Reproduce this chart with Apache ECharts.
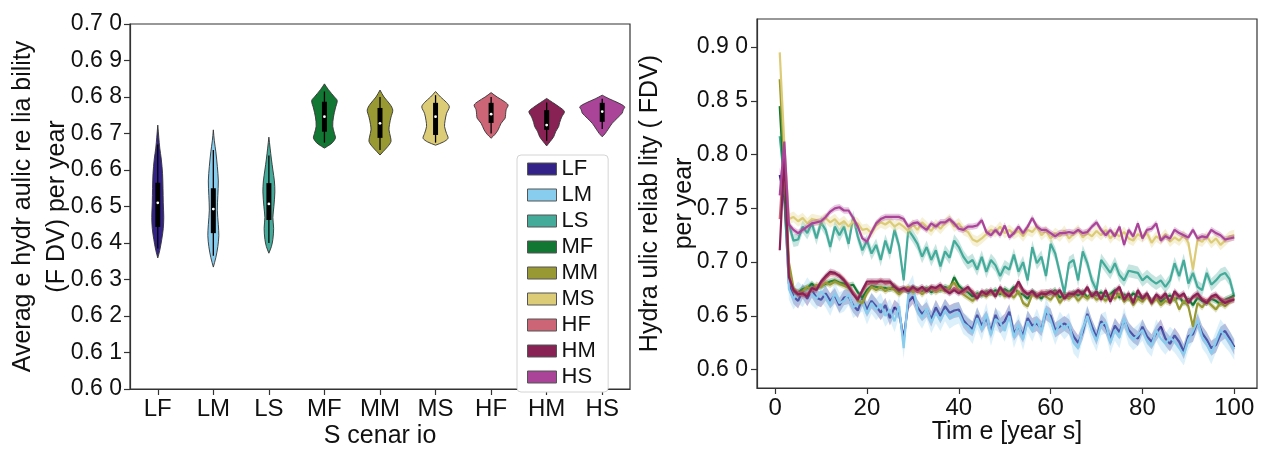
<!DOCTYPE html>
<html>
<head>
<meta charset="utf-8">
<script src="https://cdn.jsdelivr.net/npm/echarts@6/dist/echarts.min.js"></script>
<style>
html, body { margin: 0; padding: 0; background: #fff; }
#main { width: 1269px; height: 449px; }
</style>
</head>
<body>
<div id="main"></div>
<script>
// scenarios and colours
var scenarios = ['LF', 'LM', 'LS', 'MF', 'MM', 'MS', 'HF', 'HM', 'HS'];
var colors = ['#332288', '#88CCEE', '#44AA99', '#117733', '#999933', '#DDCC77', '#CC6677', '#882255', '#AA4499'];

// violin outlines: [value, half width as share of the category band]
var violinShapes = [
  [[0.6723,0],[0.6690,0.018],[0.6660,0.036],[0.6630,0.063],[0.6590,0.086],[0.6550,0.094],[0.6510,0.099],[0.6470,0.108],[0.6440,0.099],[0.6410,0.072],[0.6380,0.036],[0.6359,0]],
  [[0.6710,0],[0.6680,0.018],[0.6650,0.045],[0.6610,0.072],[0.6570,0.090],[0.6530,0.081],[0.6490,0.072],[0.6450,0.090],[0.6420,0.099],[0.6390,0.081],[0.6360,0.045],[0.6334,0]],
  [[0.6690,0],[0.6660,0.022],[0.6630,0.045],[0.6600,0.072],[0.6570,0.099],[0.6540,0.108],[0.6500,0.090],[0.6470,0.072],[0.6440,0.086],[0.6410,0.072],[0.6390,0.045],[0.6372,0]],
  [[0.6836,0],[0.6820,0.072],[0.6800,0.180],[0.6790,0.230],[0.6770,0.198],[0.6745,0.162],[0.6720,0.149],[0.6700,0.180],[0.6688,0.198],[0.6675,0.144],[0.6665,0.054],[0.6660,0]],
  [[0.6819,0],[0.6800,0.072],[0.6780,0.180],[0.6764,0.230],[0.6745,0.198],[0.6725,0.171],[0.6710,0.162],[0.6690,0.189],[0.6678,0.198],[0.6665,0.144],[0.6650,0.054],[0.6641,0]],
  [[0.6815,0],[0.6800,0.090],[0.6785,0.198],[0.6773,0.248],[0.6755,0.198],[0.6735,0.171],[0.6719,0.162],[0.6700,0.198],[0.6687,0.225],[0.6677,0.144],[0.6668,0]],
  [[0.6812,0],[0.6800,0.108],[0.6788,0.234],[0.6778,0.306],[0.6765,0.270],[0.6752,0.261],[0.6742,0.252],[0.6728,0.180],[0.6710,0.126],[0.6698,0.072],[0.6687,0]],
  [[0.6796,0],[0.6785,0.108],[0.6772,0.234],[0.6760,0.320],[0.6745,0.270],[0.6730,0.234],[0.6719,0.216],[0.6705,0.162],[0.6691,0.126],[0.6678,0.063],[0.6666,0]],
  [[0.6805,0],[0.6795,0.126],[0.6784,0.288],[0.6773,0.405],[0.6765,0.378],[0.6756,0.360],[0.6742,0.270],[0.6728,0.180],[0.6712,0.108],[0.6700,0.054],[0.6691,0]]
];
var boxQ1 =     [0.6444, 0.6427, 0.6463, 0.6705, 0.6688, 0.6696, 0.6729, 0.6710, 0.6732];
var boxQ3 =     [0.6565, 0.6550, 0.6564, 0.6787, 0.6770, 0.6784, 0.6784, 0.6764, 0.6784];
var medians =   [0.6510, 0.6493, 0.6507, 0.6746, 0.6728, 0.6746, 0.6753, 0.6723, 0.6760];
var whiskerLo = [0.6385, 0.6365, 0.6400, 0.6675, 0.6655, 0.6675, 0.6700, 0.6680, 0.6712];
var whiskerHi = [0.6670, 0.6655, 0.6640, 0.6815, 0.6800, 0.6805, 0.6800, 0.6785, 0.6795];

var leftYTicks = [0.60, 0.61, 0.62, 0.63, 0.64, 0.65, 0.66, 0.67, 0.68, 0.69, 0.70];
var leftYTickLabels = ['0.6 0', '0.6 1', '0.6 2', '0.6 3', '0.6 4', '0.6 5', '0.6 6', '0.6 7', '0.6 8', '0.6 9', '0.7 0'];
var rightYTicks = [0.60, 0.65, 0.70, 0.75, 0.80, 0.85, 0.90];
var rightYTickLabels = ['0.6 0', '0.6 5', '0.7 0', '0.7 5', '0.8 0', '0.8 5', '0.9 0'];
var rightXTicks = [0, 20, 40, 60, 80, 100];

// yearly reliability per scenario (years 1..100)
var years = [];
for (var y = 1; y <= 100; y++) years.push(y);

var valsLF = [0.781,0.760,0.680,0.668,0.664,0.673,0.666,0.674,0.667,0.665,0.671,0.664,0.669,0.660,0.667,0.668,0.660,0.655,0.666,0.656,
0.664,0.659,0.653,0.660,0.648,0.658,0.654,0.628,0.663,0.668,0.658,0.652,0.656,0.647,0.658,0.650,0.659,0.653,0.655,0.656,
0.646,0.641,0.638,0.651,0.641,0.648,0.636,0.651,0.641,0.645,0.654,0.634,0.640,0.632,0.648,0.641,0.643,0.638,0.653,0.650,
0.637,0.640,0.643,0.640,0.631,0.625,0.635,0.652,0.640,0.630,0.645,0.640,0.629,0.641,0.635,0.646,0.637,0.632,0.629,0.640,
0.631,0.626,0.634,0.640,0.629,0.624,0.632,0.626,0.617,0.631,0.633,0.645,0.634,0.628,0.620,0.623,0.633,0.636,0.629,0.621];
var valsLM = [0.765,0.775,0.675,0.666,0.672,0.668,0.676,0.670,0.666,0.673,0.668,0.660,0.671,0.662,0.664,0.670,0.658,0.661,0.664,0.652,
0.662,0.656,0.661,0.650,0.656,0.645,0.659,0.620,0.670,0.678,0.655,0.648,0.657,0.644,0.653,0.646,0.655,0.648,0.651,0.653,
0.643,0.640,0.634,0.648,0.637,0.652,0.632,0.647,0.644,0.636,0.650,0.630,0.642,0.628,0.645,0.636,0.647,0.635,0.657,0.646,
0.633,0.644,0.638,0.643,0.625,0.620,0.638,0.650,0.636,0.627,0.642,0.644,0.625,0.637,0.630,0.648,0.633,0.628,0.632,0.637,
0.627,0.622,0.637,0.629,0.624,0.630,0.626,0.620,0.614,0.628,0.636,0.646,0.630,0.624,0.615,0.626,0.637,0.631,0.626,0.619];
var valsLS = [0.817,0.775,0.735,0.720,0.721,0.733,0.727,0.736,0.722,0.737,0.730,0.714,0.733,0.725,0.733,0.717,0.742,0.724,0.711,0.720,
0.708,0.716,0.702,0.720,0.708,0.730,0.715,0.683,0.730,0.724,0.717,0.705,0.714,0.702,0.711,0.696,0.710,0.704,0.720,0.714,
0.705,0.699,0.702,0.693,0.705,0.691,0.702,0.697,0.687,0.696,0.693,0.707,0.691,0.700,0.683,0.714,0.699,0.705,0.687,0.717,
0.708,0.690,0.671,0.699,0.702,0.683,0.710,0.699,0.683,0.674,0.702,0.696,0.690,0.699,0.688,0.683,0.692,0.691,0.690,0.683,
0.687,0.683,0.680,0.683,0.677,0.683,0.699,0.687,0.702,0.680,0.690,0.677,0.674,0.690,0.679,0.683,0.688,0.690,0.684,0.668];
var valsMF = [0.845,0.770,0.690,0.673,0.672,0.675,0.676,0.680,0.676,0.678,0.680,0.682,0.683,0.681,0.680,0.678,0.679,0.672,0.667,0.674,
0.678,0.677,0.676,0.676,0.675,0.678,0.672,0.675,0.673,0.676,0.674,0.673,0.676,0.672,0.675,0.674,0.677,0.675,0.686,0.678,
0.674,0.672,0.668,0.671,0.669,0.673,0.671,0.674,0.670,0.675,0.672,0.677,0.671,0.670,0.666,0.673,0.670,0.666,0.672,0.671,
0.674,0.667,0.670,0.668,0.672,0.669,0.673,0.667,0.671,0.669,0.672,0.668,0.670,0.674,0.667,0.670,0.666,0.671,0.668,0.666,
0.670,0.664,0.668,0.663,0.667,0.669,0.665,0.668,0.662,0.666,0.660,0.667,0.664,0.662,0.666,0.664,0.661,0.665,0.667,0.669];
var valsMM = [0.870,0.790,0.700,0.676,0.670,0.673,0.677,0.674,0.679,0.677,0.681,0.679,0.682,0.680,0.678,0.676,0.672,0.664,0.662,0.671,
0.677,0.674,0.677,0.673,0.676,0.674,0.670,0.674,0.677,0.672,0.675,0.670,0.674,0.676,0.672,0.675,0.673,0.677,0.681,0.674,
0.670,0.667,0.664,0.668,0.671,0.668,0.672,0.669,0.673,0.668,0.671,0.667,0.673,0.662,0.659,0.670,0.667,0.671,0.668,0.665,
0.671,0.662,0.668,0.666,0.670,0.664,0.669,0.666,0.670,0.665,0.668,0.664,0.669,0.666,0.671,0.663,0.667,0.660,0.666,0.663,
0.668,0.661,0.666,0.660,0.664,0.662,0.667,0.656,0.664,0.659,0.640,0.662,0.658,0.664,0.660,0.656,0.662,0.659,0.663,0.666];
var valsMS = [0.895,0.810,0.740,0.742,0.738,0.741,0.736,0.740,0.739,0.738,0.741,0.737,0.740,0.735,0.738,0.733,0.738,0.736,0.730,0.731,
0.727,0.734,0.737,0.735,0.738,0.733,0.736,0.733,0.729,0.735,0.730,0.737,0.733,0.729,0.735,0.731,0.736,0.740,0.733,0.736,
0.730,0.728,0.721,0.719,0.722,0.726,0.730,0.728,0.733,0.727,0.730,0.726,0.729,0.724,0.730,0.728,0.733,0.725,0.729,0.722,
0.727,0.724,0.729,0.722,0.726,0.730,0.723,0.727,0.724,0.729,0.725,0.730,0.722,0.727,0.724,0.728,0.722,0.720,0.726,0.723,
0.727,0.718,0.724,0.721,0.726,0.719,0.723,0.720,0.725,0.718,0.693,0.721,0.719,0.724,0.718,0.722,0.716,0.720,0.724,0.725];
var valsHF = [0.740,0.805,0.688,0.673,0.672,0.669,0.671,0.674,0.676,0.680,0.685,0.689,0.689,0.688,0.684,0.679,0.672,0.667,0.672,0.679,
0.681,0.680,0.683,0.680,0.681,0.678,0.675,0.674,0.675,0.676,0.672,0.675,0.674,0.676,0.674,0.677,0.675,0.672,0.676,0.673,
0.672,0.675,0.673,0.668,0.671,0.672,0.672,0.670,0.675,0.672,0.670,0.672,0.679,0.672,0.671,0.671,0.670,0.672,0.672,0.671,
0.672,0.672,0.668,0.670,0.671,0.672,0.671,0.675,0.669,0.671,0.667,0.672,0.665,0.671,0.675,0.667,0.670,0.664,0.672,0.668,
0.669,0.664,0.668,0.667,0.669,0.664,0.671,0.667,0.669,0.664,0.667,0.669,0.666,0.664,0.667,0.668,0.666,0.664,0.665,0.666];
var valsHM = [0.711,0.800,0.686,0.674,0.670,0.671,0.668,0.676,0.674,0.682,0.687,0.691,0.690,0.687,0.683,0.677,0.670,0.665,0.674,0.682,
0.682,0.682,0.682,0.682,0.682,0.677,0.674,0.676,0.673,0.677,0.674,0.677,0.673,0.677,0.676,0.679,0.674,0.671,0.674,0.671,
0.674,0.677,0.671,0.666,0.673,0.670,0.674,0.668,0.677,0.671,0.668,0.674,0.682,0.674,0.670,0.673,0.668,0.671,0.670,0.673,
0.670,0.674,0.666,0.671,0.670,0.674,0.670,0.677,0.668,0.673,0.665,0.674,0.663,0.673,0.677,0.665,0.671,0.662,0.674,0.666,
0.671,0.662,0.670,0.666,0.671,0.662,0.673,0.668,0.671,0.662,0.668,0.671,0.665,0.662,0.668,0.670,0.665,0.662,0.664,0.665];
var valsHS = [0.762,0.812,0.735,0.730,0.727,0.730,0.733,0.736,0.737,0.738,0.742,0.747,0.750,0.751,0.748,0.748,0.741,0.733,0.722,0.719,
0.728,0.736,0.740,0.742,0.742,0.742,0.742,0.740,0.733,0.736,0.737,0.733,0.730,0.736,0.733,0.737,0.737,0.740,0.736,0.731,
0.730,0.733,0.733,0.734,0.739,0.728,0.725,0.730,0.725,0.734,0.723,0.727,0.733,0.727,0.733,0.741,0.733,0.730,0.730,0.727,
0.724,0.727,0.727,0.728,0.727,0.730,0.727,0.728,0.733,0.737,0.730,0.725,0.730,0.724,0.733,0.716,0.730,0.724,0.736,0.722,
0.730,0.731,0.736,0.720,0.724,0.722,0.730,0.727,0.725,0.723,0.730,0.722,0.724,0.723,0.730,0.727,0.725,0.721,0.722,0.723];
// half width of the shaded interval per scenario
var ciHalf = [0.007, 0.010, 0.006, 0.003, 0.003, 0.005, 0.003, 0.003, 0.003];

var seriesValues = [valsLF, valsLM, valsLS, valsMF, valsMM, valsMS, valsHF, valsHM, valsHS];

var FONT = 'Liberation Sans, Arial, sans-serif';

function pickLabel(ticks, labels) {
  return function (v) {
    for (var i = 0; i < ticks.length; i++) if (Math.abs(ticks[i] - v) < 1e-6) return labels[i];
    return '';
  };
}

function violinItem(idx) {
  return function (params, api) {
    var shape = violinShapes[idx];
    var bandW = api.size([1, 0])[0];
    var pts = [], k, c;
    for (k = 0; k < shape.length; k++) {
      c = api.coord([idx, shape[k][0]]);
      pts.push([c[0] + shape[k][1] * bandW, c[1]]);
    }
    for (k = shape.length - 1; k >= 0; k--) {
      c = api.coord([idx, shape[k][0]]);
      pts.push([c[0] - shape[k][1] * bandW, c[1]]);
    }
    var top = api.coord([idx, whiskerHi[idx]]), bot = api.coord([idx, whiskerLo[idx]]);
    var q3 = api.coord([idx, boxQ3[idx]]), q1 = api.coord([idx, boxQ1[idx]]);
    var med = api.coord([idx, medians[idx]]);
    return {
      type: 'group',
      children: [
        { type: 'polygon', shape: { points: pts, smooth: 0.3 }, style: { fill: colors[idx], stroke: '#333', lineWidth: 0.9 } },
        { type: 'line', shape: { x1: top[0], y1: top[1], x2: bot[0], y2: bot[1] }, style: { stroke: '#000', lineWidth: 1.3 } },
        { type: 'rect', shape: { x: q3[0] - 2.5, y: q3[1], width: 5, height: q1[1] - q3[1] }, style: { fill: '#000' } },
        { type: 'circle', shape: { cx: med[0], cy: med[1], r: 1.4 }, style: { fill: '#fff' } }
      ]
    };
  };
}

function bandItem(idx) {
  return function (params, api) {
    var vals = seriesValues[idx], ci = ciHalf[idx], pts = [], i;
    for (i = 0; i < years.length; i++) pts.push(api.coord([years[i], vals[i] + ci]));
    for (i = years.length - 1; i >= 0; i--) pts.push(api.coord([years[i], vals[i] - ci]));
    return { type: 'polygon', shape: { points: pts }, style: { fill: colors[idx], opacity: 0.3 } };
  };
}

var series = [];
scenarios.forEach(function (s, i) {
  series.push({
    name: s, type: 'custom', xAxisIndex: 0, yAxisIndex: 0,
    itemStyle: { color: colors[i] },
    renderItem: violinItem(i),
    data: [[i, medians[i]]],
    z: 3
  });
});
scenarios.forEach(function (s, i) {
  series.push({
    type: 'custom', xAxisIndex: 1, yAxisIndex: 1,
    renderItem: bandItem(i), silent: true,
    data: [[years[0], seriesValues[i][0]]],
    z: 2 + i * 2
  });
  series.push({
    name: s + ' ', type: 'line', xAxisIndex: 1, yAxisIndex: 1,
    showSymbol: false, color: colors[i],
    lineStyle: { width: 2.2, color: colors[i] },
    data: years.map(function (yr, j) { return [yr, seriesValues[i][j]]; }),
    z: 3 + i * 2
  });
});

var axisLine = { show: true, onZero: false, lineStyle: { color: '#333', width: 1.2 } };
var axisTick = { show: true, inside: false, length: 6, lineStyle: { color: '#333', width: 1.2 } };
var tickFont = { color: '#111', fontFamily: FONT, fontSize: 23 };
var nameFont = { color: '#111', fontFamily: FONT, fontSize: 25, lineHeight: 34 };

var chart = echarts.init(document.getElementById('main'));
chart.setOption({
  backgroundColor: '#fff',
  animation: false,
  grid: [
    { left: 130, top: 24, width: 500, height: 365, show: true, borderColor: '#333', borderWidth: 1.2, outerBoundsMode: 'none', containLabel: false },
    { left: 757, top: 19, width: 500, height: 369, show: true, borderColor: '#333', borderWidth: 1.2, outerBoundsMode: 'none', containLabel: false }
  ],
  legend: {
    orient: 'vertical', left: 517, top: 155,
    padding: [3, 10, 4, 10],
    itemWidth: 29, itemHeight: 12, itemGap: 4,
    icon: 'rect', selectedMode: false,
    backgroundColor: '#fff', borderColor: '#d4d4d4', borderWidth: 1, borderRadius: 4,
    textStyle: { fontFamily: FONT, fontSize: 22, lineHeight: 21, color: '#111' },
    data: scenarios.map(function (s, i) {
      return { name: s, itemStyle: { color: colors[i], borderColor: '#555', borderWidth: 1 } };
    })
  },
  xAxis: [
    {
      type: 'category', gridIndex: 0, data: scenarios, boundaryGap: true,
      axisLine: axisLine,
      axisTick: { show: true, alignWithLabel: true, length: 6, lineStyle: { color: '#333', width: 1.2 } },
      axisLabel: { margin: 8, fontSize: 24, color: '#111', fontFamily: FONT },
      name: 'S cenar io', nameLocation: 'middle', nameGap: 30, nameMoveOverlap: false, nameTextStyle: nameFont
    },
    {
      type: 'value', gridIndex: 1, min: -3.95, max: 104.95,
      splitLine: { show: false },
      axisLine: axisLine, axisTick: Object.assign({ customValues: rightXTicks }, axisTick),
      axisLabel: Object.assign({ customValues: rightXTicks, margin: 8 }, tickFont, { fontSize: 24 }),
      name: 'Tim e [year s]', nameLocation: 'middle', nameGap: 27, nameMoveOverlap: false, nameTextStyle: nameFont
    }
  ],
  yAxis: [
    {
      type: 'value', gridIndex: 0, min: 0.60, max: 0.70, interval: 0.01,
      splitLine: { show: false },
      axisLine: axisLine, axisTick: axisTick,
      axisLabel: Object.assign({ margin: 8, formatter: pickLabel(leftYTicks, leftYTickLabels) }, tickFont),
      name: 'Averag e hydr aulic re lia bility\n(F DV) per year', nameLocation: 'middle', nameRotate: 90,
      nameGap: 56, nameMoveOverlap: false, nameTextStyle: nameFont
    },
    {
      type: 'value', gridIndex: 1, min: 0.583, max: 0.926,
      splitLine: { show: false },
      axisLine: axisLine, axisTick: Object.assign({ customValues: rightYTicks }, axisTick),
      axisLabel: Object.assign({ customValues: rightYTicks, margin: 9, formatter: pickLabel(rightYTicks, rightYTickLabels) }, tickFont),
      name: 'Hydra ulic reliab lity ( FDV)\nper year', nameLocation: 'middle', nameRotate: 90,
      nameGap: 56, nameMoveOverlap: false, nameTextStyle: nameFont
    }
  ],
  series: series
});
</script>
</body>
</html>
